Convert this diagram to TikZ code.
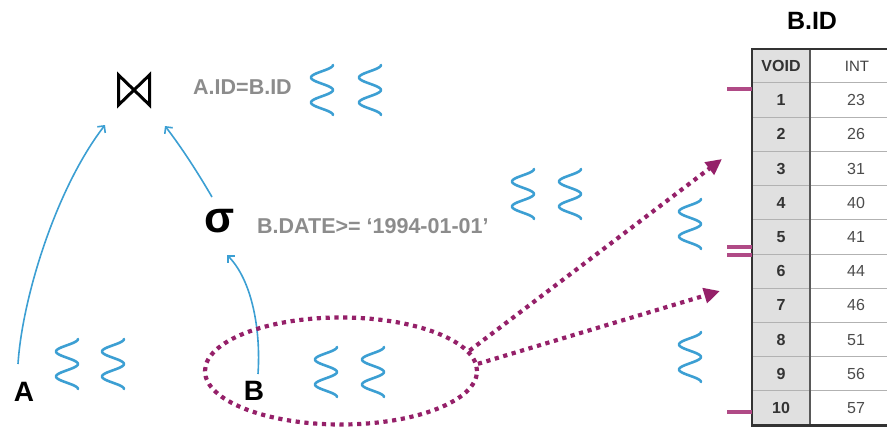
\documentclass[tikz,border=0pt]{standalone}
\usepackage{fontspec}
\setmainfont{Liberation Sans}
\usetikzlibrary{arrows.meta,shapes.geometric}
\definecolor{flow}{HTML}{3C9FD3}
\definecolor{selc}{HTML}{952069}
\definecolor{tickc}{HTML}{B04A86}
\definecolor{cond}{HTML}{8C8C8C}
\definecolor{cellgray}{HTML}{E0E0E0}
\definecolor{frame}{HTML}{333333}

\begin{document}
\begin{tikzpicture}[x=1pt,y=-1pt,
  wave/.style={draw=flow,line width=2.6pt,line cap=round,line join=round},
  squig/.pic={\path[wave] plot[smooth,domain=0:720,samples=49] ({11*cos(\x)},{-25+\x/14.4});},
  flowarrow/.style={draw=flow,line width=1.6pt,-{Straight Barb[length=5pt,width=10pt]}},
  dotline/.style={draw=selc,line width=4.2pt,dash pattern=on 4.2pt off 4.6pt},
  selarrow/.style={dotline,-{Triangle[length=16pt,width=15pt]}},
  tickline/.style={draw=tickc,line width=3.4pt},
  letter/.style={font=\bfseries\fontsize{28}{28}\selectfont,inner sep=0pt},
  condtext/.style={text=cond,font=\bfseries\fontsize{21.5}{22}\selectfont,inner sep=0pt,anchor=west},
  hdrcell/.style={font=\bfseries\fontsize{16}{16}\selectfont,text=frame,inner sep=0pt},
  inthdr/.style={font=\fontsize{15}{15}\selectfont,text=black!75,inner sep=0pt},
  idcell/.style={font=\bfseries\fontsize{16}{16}\selectfont,text=frame,inner sep=0pt},
  valcell/.style={font=\fontsize{16}{16}\selectfont,text=black!70,inner sep=0pt}]

\useasboundingbox (0,0) rectangle (887,428);

% ---------- query plan ----------
\node[minimum width=31pt,minimum height=30pt,inner sep=0pt,outer sep=0pt] (join) at (134,90) {};
\draw[line width=3pt] (join.north west) -- (join.south west) -- (join.north east) -- (join.south east) -- cycle;
\node[condtext] (jcond) at (193,87) {A.ID=B.ID};

\node[font=\bfseries\fontsize{44}{44}\selectfont,inner sep=0pt] (sig) at (220,221) {σ};
\node[condtext] (scond) at (257,226) {B.DATE>= ‘1994-01-01’};

\node[letter] (A) at (24,392) {A};
\node[letter] (B) at (254,391) {B};

\draw[flowarrow] ([shift={(-6,-28)}]A.center) .. controls (22,300) and (55,190) .. ([shift={(-29,35)}]join.center);
\draw[flowarrow] ([shift={(-8,-24)}]sig.center) .. controls (198,173) and (182,148) .. ([shift={(31,36)}]join.center);
\draw[flowarrow] ([shift={(4,-17)}]B.center) .. controls (261,330) and (252,280) .. ([shift={(7,34)}]sig.center);

% ---------- scanned set and pointers into the column ----------
\node[ellipse,dotline,minimum width=272pt,minimum height=107pt] (selset) at (341,371) {};
\coordinate (t1) at (722,159);
\coordinate (t2) at (720,291);
\draw[selarrow] (selset.9) -- (t1);
\draw[selarrow] (selset.3) -- (t2);

% ---------- squiggles ----------
\pic at (322,90) {squig};
\pic at (370,90) {squig};
\pic at (523,194) {squig};
\pic at (570,194) {squig};
\pic at (690,224) {squig};
\pic at (690,357) {squig};
\pic at (67,364) {squig};
\pic at (113,364) {squig};
\pic at (326,372) {squig};
\pic at (373,372) {squig};

% ---------- column B.ID ----------
\node[font=\bfseries\fontsize{25}{25}\selectfont,inner sep=0pt] (title) at (812,21) {B.ID};
\begin{scope}
  \clip (700,0) rectangle (887,428);
  \fill[cellgray] (752,49) rectangle (810,426);
  \foreach \k in {0,...,9}
    \draw[black!30,line width=1pt] (752,{83+34.2*\k}) -- (900,{83+34.2*\k});
  \draw[black!65,line width=1.2pt] (810,49) -- (810,426);
  \draw[frame,line width=2.6pt] (900,49) -- (752,49) -- (752,425.5) -- (900,425.5);
\end{scope}
\node[hdrcell] (hvoid) at (781,66) {VOID};
\node[inthdr] (hint) at (857,66) {INT};
\foreach \i/\v in {1/23,2/26,3/31,4/40,5/41,6/44,7/46,8/51,9/56,10/57} {
  \node[idcell] (v\i) at (781,{66+34.2*\i}) {\i};
  \node[valcell] (n\i) at (856,{66+34.2*\i}) {\v};
}

% range ticks beside the column
\draw[tickline] (727,89) -- (752,89);
\draw[tickline] (727,247) -- (752,247);
\draw[tickline] (727,255) -- (752,255);
\draw[tickline] (727,412) -- (752,412);
\end{tikzpicture}
\end{document}
